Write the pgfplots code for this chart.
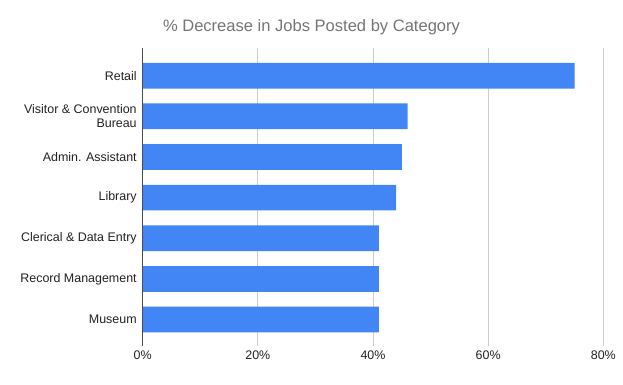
\documentclass[border=0pt]{standalone}
\usepackage{pgfplots}
\pgfplotsset{compat=1.18}
\usepackage{fontspec}
\setmainfont{Liberation Sans}
\definecolor{barblue}{HTML}{4285F4}
\definecolor{gridgray}{HTML}{CCCCCC}
\definecolor{titlegray}{HTML}{757575}
\definecolor{labelgray}{HTML}{222222}
\begin{document}
\begin{tikzpicture}
\path[use as bounding box] (0,0) rectangle (623bp,385bp);
\node[text=titlegray, font=\fontsize{16.6}{19}\selectfont] at (311.5bp,358bp) {\% Decrease in Jobs Posted by Category};
\begin{axis}[
  at={(142.7bp,39bp)}, anchor=south west,
  scale only axis, width=460.6bp, height=298bp,
  xbar, bar width=25.7bp,
  xmin=0, xmax=80,
  ymin=-0.68, ymax=6.65,
  y dir=reverse,
  ytick={0,...,6},
  yticklabels={Retail,{Visitor \& Convention\\Bureau},Admin. Assistant,Library,Clerical \& Data Entry,Record Management,Museum},
  yticklabel style={align=right, font=\fontsize{12.5}{14}\selectfont, text=labelgray, xshift=-2.5bp},
  xtick={0,20,40,60,80},
  xticklabel={\pgfmathprintnumber{\tick}\%},
  xticklabel style={font=\fontsize{12.5}{14}\selectfont, text=labelgray, yshift=-1bp},
  /pgf/number format/assume math mode=true,
  major tick length=0pt,
  xmajorgrids, grid style={gridgray, line width=0.8pt},
  axis line style={draw=none},
  clip=false,
]
\addplot[fill=barblue, draw=none] coordinates {
  (75,0) (46,1) (45,2) (44,3) (41,4) (41,5) (41,6)
};
\draw[color=black!70, line width=0.8pt] (axis cs:0,-0.68) -- (axis cs:0,6.65);
\end{axis}
\end{tikzpicture}
\end{document}
